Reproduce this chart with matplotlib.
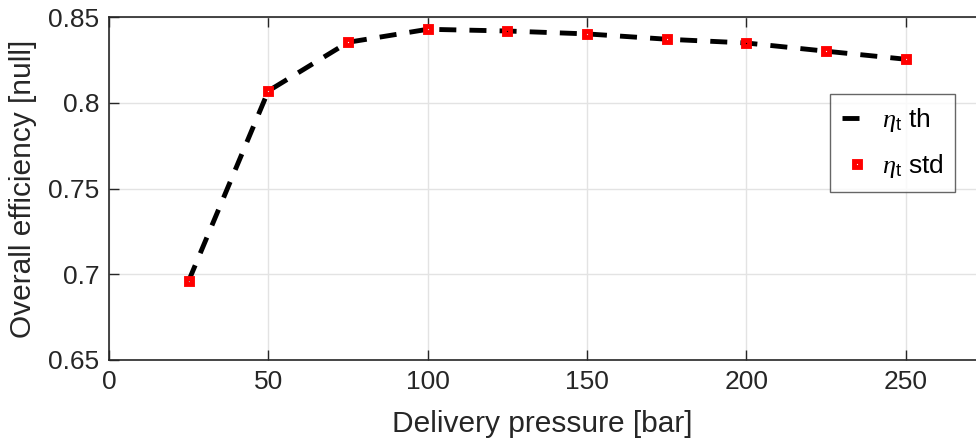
import matplotlib
matplotlib.use("Agg")
import matplotlib.pyplot as plt

plt.rcParams['font.family'] = ['Liberation Sans', 'DejaVu Sans']
plt.rcParams['mathtext.fontset'] = 'custom'
plt.rcParams['mathtext.it'] = 'Liberation Serif:italic'
plt.rcParams['mathtext.rm'] = 'Liberation Sans'

pressure = [25, 50, 75, 100, 125, 150, 175, 200, 225, 250]
eta_th = [0.6961, 0.8070, 0.8354, 0.8430, 0.8420, 0.8403, 0.8372, 0.8350, 0.8302, 0.8255]
eta_std = [0.6961, 0.8070, 0.8354, 0.8430, 0.8420, 0.8403, 0.8372, 0.8350, 0.8302, 0.8255]
xticks = [0, 50, 100, 150, 200, 250]
yticks = [0.65, 0.7, 0.75, 0.8, 0.85]
yticklabels = ['0.65', '0.7', '0.75', '0.8', '0.85']

fig = plt.figure(figsize=(9.76, 4.41), dpi=100)
ax = fig.add_axes([0.1116, 0.1837, 0.8884, 0.7771])

ax.plot(pressure, eta_th, color='black', lw=3.5, linestyle=(0, (3.5, 2.7)),
        label=r'$\eta_{\mathrm{t}}$ th', zorder=3)
ax.plot(pressure, eta_std, linestyle='none', marker='s', ms=5, mew=3.5,
        mec='red', mfc='none', label=r'$\eta_{\mathrm{t}}$ std', zorder=4)

ax.set_xlim(0, 272)
ax.set_ylim(0.65, 0.85)
ax.set_xticks(xticks)
ax.set_yticks(yticks)
ax.set_yticklabels(yticklabels)
ax.grid(True, color='#e3e3e3', lw=1)
ax.set_axisbelow(True)
ax.tick_params(direction='in', length=7, width=1, top=True, right=False,
               labelsize=19, colors='#262626', pad=7)
for s in ['left', 'bottom', 'top']:
    ax.spines[s].set_color('#262626')
    ax.spines[s].set_linewidth(1.2)
ax.spines['right'].set_visible(False)

ax.set_xlabel('Delivery pressure [bar]', fontsize=21.5, color='#262626', labelpad=12)
ax.set_ylabel('Overall efficiency [null]', fontsize=21.5, color='#262626', labelpad=8)

leg = ax.legend(loc='upper left', bbox_to_anchor=(0.8317, 0.776), fontsize=19,
                frameon=True, fancybox=False, edgecolor='#404040',
                handlelength=1.15, handletextpad=0.35, borderpad=0.45,
                labelspacing=0.7, borderaxespad=0)
leg.get_frame().set_linewidth(1)

fig.savefig('out.png', dpi=100)
